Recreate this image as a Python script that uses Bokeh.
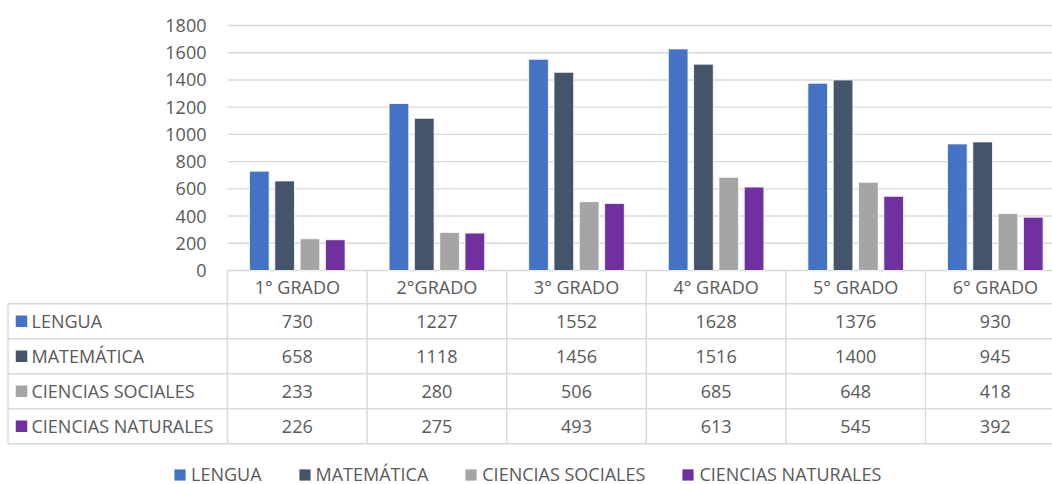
from bokeh.plotting import figure
from bokeh.models import Range1d, Legend, LegendItem, ColumnDataSource
from bokeh.core.properties import value
from bokeh.embed import file_html
from bokeh.resources import INLINE

# ---------------- data ----------------
categories = ["1° GRADO", "2°GRADO", "3° GRADO", "4° GRADO", "5° GRADO", "6° GRADO"]
series_names = ["LENGUA", "MATEMÁTICA", "CIENCIAS SOCIALES", "CIENCIAS NATURALES"]
lengua = [730, 1227, 1552, 1628, 1376, 930]
matematica = [658, 1118, 1456, 1516, 1400, 945]
ciencias_sociales = [233, 280, 506, 685, 648, 418]
ciencias_naturales = [226, 275, 493, 613, 545, 392]
y_ticks = [0, 200, 400, 600, 800, 1000, 1200, 1400, 1600, 1800]

series_values = [lengua, matematica, ciencias_sociales, ciencias_naturales]
colors = ["#4472C4", "#44546A", "#A5A5A5", "#7030A0"]

# ---------------- layout / style ----------------
FONT = value("Open Sans")
FS = "18px"
TXT = "#595959"
LINE = "#D9D9D9"

W, H = 1052, 484
PX0, PY0 = 0, 0
plot_left = 227.0            # x of category axis start
col_w = 139.6                # width of one category
zero_py = 270.0              # y of value 0
top_py = 25.0                # y of value 1800
unit = (zero_py - top_py) / 1800.0

row_lines = [303.3, 338.3, 373.3, 408.3, 443.3]
row_centers = [(row_lines[i] + row_lines[i + 1]) / 2 for i in range(4)]
header_center = (zero_py + row_lines[0]) / 2
table_left = 7.5

bar_w = 0.141
offsets = [-0.272, -0.0907, 0.0907, 0.272]

x_range = Range1d((PX0 - plot_left) / col_w, (PX0 + W - plot_left) / col_w)
y_range = Range1d((zero_py - (PY0 + H)) / unit, (zero_py - PY0) / unit)

p = figure(width=W, height=H, x_range=x_range, y_range=y_range,
           x_axis_type=None, y_axis_type=None, min_border=0,
           toolbar_location=None, output_backend="svg",
           outline_line_color=None, background_fill_color="white",
           border_fill_color="white")
p.extra_x_ranges = {"px": Range1d(PX0, PX0 + W)}
p.extra_y_ranges = {"px": Range1d(PY0 + H, PY0)}

n = len(categories)

# gridlines (incl. zero line)
p.segment(x0=[0] * len(y_ticks), x1=[x_range.end] * len(y_ticks),
          y0=y_ticks, y1=y_ticks, line_color=LINE, line_width=1.4)

# y tick labels
p.text(x=[206] * len(y_ticks), y=y_ticks, text=[str(t) for t in y_ticks],
       x_range_name="px", text_font=FONT, text_font_size=FS,
       text_color=TXT, text_align="right", text_baseline="middle")

# bars
renderers = []
for i, vals in enumerate(series_values):
    src = ColumnDataSource(dict(x=[k + 0.5 + offsets[i] for k in range(n)], top=vals))
    r = p.vbar(x="x", top="top", width=bar_w, source=src,
               fill_color=colors[i], line_color="white", line_width=0.8)
    renderers.append(r)

# data table grid
p.segment(x0=[table_left] * len(row_lines), x1=[PX0 + W] * len(row_lines),
          y0=row_lines, y1=row_lines, x_range_name="px", y_range_name="px",
          line_color=LINE, line_width=1.4)
p.segment(x0=list(range(n + 1)), x1=list(range(n + 1)),
          y0=[zero_py] * (n + 1), y1=[row_lines[-1]] * (n + 1),
          y_range_name="px", line_color=LINE, line_width=1.4)
p.segment(x0=[table_left], x1=[table_left], y0=[row_lines[0]], y1=[row_lines[-1]],
          x_range_name="px", y_range_name="px", line_color=LINE, line_width=1.4)

# header (categories)
p.text(x=[k + 0.5 for k in range(n)], y=[header_center] * n, text=categories,
       y_range_name="px", text_font=FONT, text_font_size=FS, text_color=TXT,
       text_align="center", text_baseline="middle")

# row labels with color keys
p.scatter(x=[21] * 4, y=row_centers, marker="square", size=11.5,
          fill_color=colors, line_color=None,
          x_range_name="px", y_range_name="px")
p.text(x=[31] * 4, y=row_centers, text=series_names,
       x_range_name="px", y_range_name="px", text_font=FONT, text_font_size=FS,
       text_color=TXT, text_align="left", text_baseline="middle")

# table values
for i, vals in enumerate(series_values):
    p.text(x=[k + 0.5 for k in range(n)], y=[row_centers[i]] * n,
           text=[str(v) for v in vals], y_range_name="px",
           text_font=FONT, text_font_size=FS, text_color=TXT,
           text_align="center", text_baseline="middle")

# legend
legend = Legend(items=[LegendItem(label=series_names[i], renderers=[renderers[i]])
                       for i in range(4)],
                orientation="horizontal", location=(172, -2),
                glyph_width=15, glyph_height=15, label_standoff=4, spacing=35,
                padding=0, margin=0, border_line_alpha=0, background_fill_alpha=0,
                label_text_font="Open Sans", label_text_font_size=FS,
                label_text_color=TXT)
p.add_layout(legend)

open("out.html", "w").write(file_html(p, INLINE))
